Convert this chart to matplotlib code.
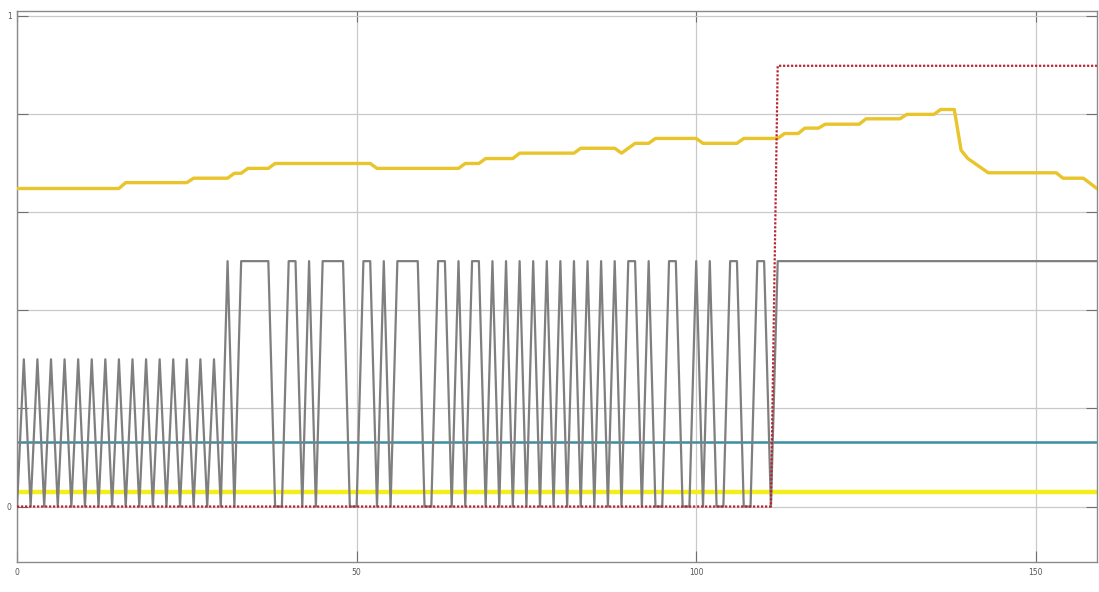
import numpy as np
import matplotlib
matplotlib.use("Agg")
import matplotlib.pyplot as plt

# gray pulse signal, one sample per time step from t=0 to t=112, then held to the end
gray_y = [0, .3, 0, .3, 0, .3, 0, .3, 0, .3, 0, .3, 0, .3, 0, .3, 0, .3, 0, .3,
          0, .3, 0, .3, 0, .3, 0, .3, 0, .3, 0, .5, 0, .5, .5, .5, .5, .5, 0, 0,
          .5, .5, 0, .5, 0, .5, .5, .5, .5, 0, 0, .5, .5, 0, .5, 0, .5, .5, .5, .5,
          0, 0, .5, .5, 0, .5, 0, .5, .5, 0, .5, 0, .5, 0, .5, 0, .5, 0, .5, 0,
          .5, 0, .5, 0, .5, 0, .5, 0, .5, 0, .5, .5, 0, .5, 0, 0, .5, .5, 0, 0,
          .5, 0, .5, 0, 0, .5, .5, 0, 0, .5, .5, 0, .5]
gray_end = 159
t_end = 159

# gold curve breakpoints
gold_x = [0, 15, 16, 25, 26, 31, 32, 33, 34, 37, 38, 52, 53, 65, 66, 68, 69, 73, 74,
          82, 83, 88, 89, 90, 91, 93, 94, 100, 101, 106, 107, 112, 113, 115, 116,
          118, 119, 124, 125, 130, 131, 135, 136, 138, 139, 140, 143, 153, 154, 157, 159]
gold_y = [.648, .648, .660, .660, .669, .669, .679, .679, .689, .689, .699, .699, .689,
          .689, .699, .699, .709, .709, .720, .720, .730, .730, .720, .730, .740, .740,
          .750, .750, .740, .740, .750, .750, .760, .760, .771, .771, .779, .779, .790,
          .790, .799, .799, .809, .809, .726, .709, .680, .680, .669, .669, .648]

# red step signal
red_x = [0, 111, 112, 159]
red_y = [0, 0, 0.898, 0.898]

teal_level = 0.131
yellow_level = 0.030

fig = plt.figure(figsize=(10.99, 5.92), dpi=100)
ax = fig.add_axes([0.0155, 0.0507, 0.9826, 0.931])

ax.axhline(yellow_level, color="#f4ee1c", lw=3.2, zorder=2)
ax.axhline(teal_level, color="#3b8ea2", lw=1.8, zorder=2)
gx = list(range(len(gray_y))) + [gray_end]
gy = gray_y + [gray_y[-1]]
ax.plot(gx, gy, color="#7f7f7f", lw=1.6, zorder=3)
ax.plot(gold_x, gold_y, color="#e9c42a", lw=2.4, zorder=3)
ax.plot(red_x, red_y, color="#b8232e", lw=1.6, ls=(0, (1, 0.8)), zorder=4)

ax.set_xlim(0, t_end)
ax.set_ylim(-0.113, 1.01)
ax.set_xticks([0, 50, 100, 150])
ax.set_yticks([0, 0.2, 0.4, 0.6, 0.8, 1.0])
ax.set_yticklabels(["0", "", "", "", "", "1"])
ax.grid(True, color="#c9c9c9", lw=0.9)
ax.set_axisbelow(True)
ax.tick_params(direction="in", length=8, width=0.8, color="#707070",
               labelsize=5.5, labelcolor="#555555", top=True, right=True, pad=4)
for s in ax.spines.values():
    s.set_color("#8a8a8a")
    s.set_linewidth(1.0)

fig.savefig("out.png", dpi=100)
